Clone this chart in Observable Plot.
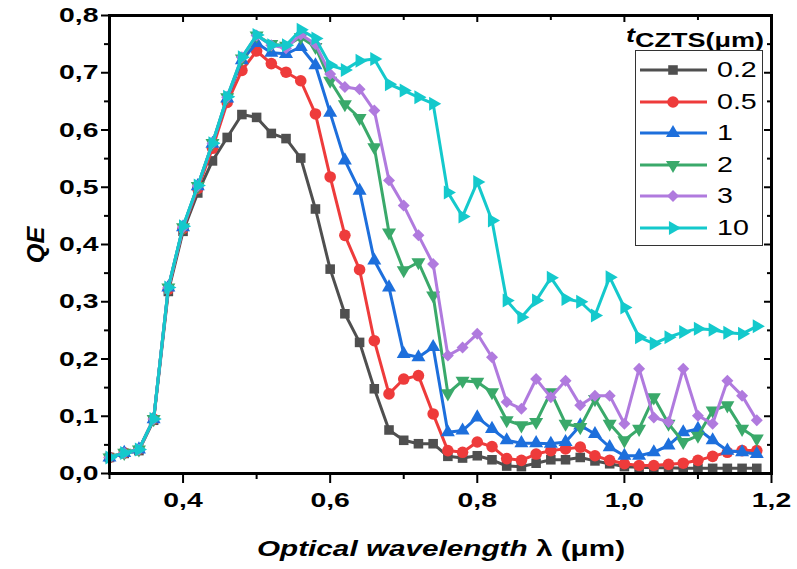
<!DOCTYPE html>
<html>
<head>
<meta charset="utf-8">
<script src="https://cdn.jsdelivr.net/npm/d3@7"></script>
<script src="https://cdn.jsdelivr.net/npm/@observablehq/plot@0.6"></script>
<style>
  body { margin: 0; background: #fff; }
  #chart { position: relative; width: 797px; height: 569px; font-family: "Liberation Sans", Arial, sans-serif; color: #000; }
  #chart svg.plot { position: absolute; left: 0; top: 0; }
  .stretch { position: absolute; transform: scaleX(1.35); white-space: nowrap; }
  #ylabel { left: 36px; top: 245px; font-weight: bold; font-style: italic; font-size: 23px;
            transform: translate(-50%, -50%) rotate(-90deg) scaleX(1.1); position: absolute; white-space: nowrap; }
  #xlabel { left: 441px; top: 536px; font-weight: bold; font-size: 22px; transform: translateX(-50%) scaleX(1.35); transform-origin: center; }
  #legend-title { left: 626px; top: 24px; font-weight: bold; font-size: 20px; transform-origin: left center; }
  #legend-box { position: absolute; left: 635px; top: 50px; width: 126px; height: 194px; border: 1px solid #333; background: #fff; }
  .legend-row { position: absolute; left: 0; height: 30px; width: 126px; }
  .legend-row svg { position: absolute; left: 4px; top: 0; }
  .legend-row span { position: absolute; left: 81px; top: 2px; font-size: 22px; transform: scaleX(1.3); transform-origin: left center; }
</style>
</head>
<body>
<div id="chart"></div>
<script>
// Wavelength grid (µm)
const wavelength = [0.30, 0.32, 0.34, 0.36, 0.38, 0.40, 0.42, 0.44, 0.46, 0.48,
  0.50, 0.52, 0.54, 0.56, 0.58, 0.60, 0.62, 0.64, 0.66, 0.68,
  0.70, 0.72, 0.74, 0.76, 0.78, 0.80, 0.82, 0.84, 0.86, 0.88,
  0.90, 0.92, 0.94, 0.96, 0.98, 1.00, 1.02, 1.04, 1.06, 1.08,
  1.10, 1.12, 1.14, 1.16, 1.18];

// CZTS absorber thicknesses (µm) and their legend labels
const thickness = ["0.2", "0.5", "1", "2", "3", "10"];

// Quantum efficiency for each thickness
const qe02 = [0.028, 0.035, 0.040, 0.093, 0.318, 0.423, 0.490, 0.546, 0.587, 0.627,
  0.622, 0.594, 0.585, 0.551, 0.462, 0.357, 0.279, 0.229, 0.148, 0.076,
  0.058, 0.052, 0.052, 0.030, 0.027, 0.031, 0.024, 0.013, 0.012, 0.018,
  0.024, 0.024, 0.028, 0.022, 0.017, 0.012, 0.011, 0.010, 0.010, 0.009,
  0.009, 0.009, 0.009, 0.009, 0.009];
const qe05 = [0.028, 0.036, 0.042, 0.095, 0.322, 0.428, 0.498, 0.568, 0.648, 0.704,
  0.738, 0.716, 0.701, 0.686, 0.628, 0.518, 0.416, 0.356, 0.232, 0.139,
  0.165, 0.171, 0.104, 0.040, 0.037, 0.055, 0.047, 0.026, 0.023, 0.034,
  0.040, 0.043, 0.046, 0.031, 0.023, 0.017, 0.014, 0.014, 0.016, 0.018,
  0.023, 0.030, 0.037, 0.040, 0.040];
const qe1 = [0.028, 0.036, 0.042, 0.095, 0.325, 0.430, 0.502, 0.576, 0.655, 0.722,
  0.752, 0.735, 0.733, 0.745, 0.713, 0.630, 0.547, 0.494, 0.372, 0.325,
  0.209, 0.203, 0.221, 0.072, 0.075, 0.098, 0.078, 0.058, 0.053, 0.053,
  0.052, 0.055, 0.084, 0.069, 0.046, 0.031, 0.031, 0.037, 0.049, 0.072,
  0.078, 0.058, 0.040, 0.037, 0.034];
const qe2 = [0.028, 0.036, 0.042, 0.095, 0.325, 0.430, 0.502, 0.577, 0.657, 0.725,
  0.765, 0.750, 0.747, 0.762, 0.745, 0.686, 0.645, 0.621, 0.570, 0.421,
  0.355, 0.369, 0.311, 0.140, 0.162, 0.160, 0.142, 0.093, 0.084, 0.090,
  0.142, 0.087, 0.081, 0.130, 0.087, 0.058, 0.078, 0.133, 0.087, 0.055,
  0.066, 0.110, 0.119, 0.078, 0.061];
const qe3 = [0.028, 0.036, 0.042, 0.095, 0.325, 0.430, 0.502, 0.577, 0.657, 0.727,
  0.765, 0.748, 0.743, 0.767, 0.750, 0.698, 0.675, 0.671, 0.634, 0.512,
  0.468, 0.416, 0.366, 0.206, 0.220, 0.244, 0.203, 0.125, 0.113, 0.165,
  0.133, 0.162, 0.119, 0.136, 0.136, 0.087, 0.183, 0.098, 0.090, 0.183,
  0.101, 0.087, 0.162, 0.136, 0.093];
const qe10 = [0.028, 0.036, 0.042, 0.095, 0.325, 0.432, 0.503, 0.577, 0.658, 0.727,
  0.766, 0.748, 0.748, 0.775, 0.760, 0.713, 0.705, 0.721, 0.724, 0.680,
  0.669, 0.657, 0.646, 0.491, 0.449, 0.509, 0.442, 0.302, 0.273, 0.302,
  0.342, 0.305, 0.300, 0.276, 0.343, 0.290, 0.238, 0.227, 0.238, 0.247,
  0.253, 0.251, 0.246, 0.244, 0.257];

// Axis tick values
const xMajorTicks = [0.4, 0.6, 0.8, 1.0, 1.2];
const xMinorTicks = [0.3, 0.5, 0.7, 0.9, 1.1];
const yMajorTicks = [0, 0.1, 0.2, 0.3, 0.4, 0.5, 0.6, 0.7, 0.8];
const yMinorTicks = [0.05, 0.15, 0.25, 0.35, 0.45, 0.55, 0.65, 0.75];

const colors = ["#4f4f4f", "#ee3b3b", "#1d6fdc", "#3aa96a", "#b07ade", "#14c9cc"];

// Custom marker shapes: triangles pointing down and right
const sqrt3 = Math.sqrt(3);
function triangle(dir) {
  return {
    draw(context, size) {
      const y = -Math.sqrt(size / (sqrt3 * 3));
      let pts = [[0, 2 * y], [-sqrt3 * y, -y], [sqrt3 * y, -y]];
      if (dir === "down") pts = pts.map(([a, b]) => [a, -b]);
      if (dir === "right") pts = pts.map(([a, b]) => [-b, a]);
      context.moveTo(pts[0][0], pts[0][1]);
      context.lineTo(pts[1][0], pts[1][1]);
      context.lineTo(pts[2][0], pts[2][1]);
      context.closePath();
    }
  };
}
const symbols = [d3.symbolSquare, d3.symbolCircle, d3.symbolTriangle, triangle("down"), d3.symbolDiamond2, triangle("right")];
const radii = [5.4, 5.8, 5.2, 5.2, 5.4, 5.2];

const seriesValues = [qe02, qe05, qe1, qe2, qe3, qe10];
const series = thickness.map((t, k) => ({
  label: t,
  color: colors[k],
  symbol: symbols[k],
  r: radii[k],
  rows: wavelength.map((w, i) => ({w, qe: seriesValues[k][i]}))
}));

const fmt = d => d.toFixed(1).replace(".", ",");
const labelFont = {fontFamily: "Liberation Sans, Arial, sans-serif", fontSize: 21, fontWeight: "bold"};

const marks = [
  // left axis: outward ticks with labels
  Plot.axisY(yMajorTicks, {anchor: "left", tickSize: 8, tickPadding: 3, strokeWidth: 2, tickFormat: fmt, label: null, ...labelFont}),
  Plot.axisY(yMinorTicks, {anchor: "left", tickSize: 5, strokeWidth: 2, tickFormat: () => "", label: null}),
  // bottom axis: outward ticks with labels
  Plot.axisX(xMajorTicks, {anchor: "bottom", tickSize: 10, tickPadding: 9, strokeWidth: 2, tickFormat: fmt, label: null, ...labelFont}),
  Plot.axisX(xMinorTicks, {anchor: "bottom", tickSize: 6, strokeWidth: 2, tickFormat: () => "", label: null}),
  // top and right axes: inward ticks only
  Plot.axisX(xMajorTicks, {anchor: "top", tickSize: 6, dy: 6, strokeWidth: 2, tickFormat: () => "", label: null}),
  Plot.axisX(xMinorTicks, {anchor: "top", tickSize: 4, dy: 4, strokeWidth: 2, tickFormat: () => "", label: null}),
  Plot.axisY(yMajorTicks, {anchor: "right", tickSize: 8, dx: -8, strokeWidth: 2, tickFormat: () => "", label: null}),
  Plot.axisY(yMinorTicks, {anchor: "right", tickSize: 5, dx: -5, strokeWidth: 2, tickFormat: () => "", label: null})
];

for (const s of series) {
  marks.push(Plot.line(s.rows, {x: "w", y: "qe", stroke: s.color, strokeWidth: 3}));
  marks.push(Plot.dot(s.rows, {x: "w", y: "qe", fill: s.color, stroke: "none", symbol: s.symbol, r: s.r}));
}
marks.push(Plot.frame({stroke: "#000", strokeWidth: 3}));

const plot = Plot.plot({
  width: 797,
  height: 569,
  marginLeft: 109,
  marginRight: 26,
  marginTop: 15,
  marginBottom: 96,
  x: {domain: [0.3, 1.2]},
  y: {domain: [0, 0.8]},
  style: {background: "#fff", color: "#000", overflow: "visible"},
  marks
});

// Widen tick labels horizontally around their anchor point
plot.querySelectorAll('[aria-label$="tick label"] text').forEach(t => {
  const tr = t.getAttribute("transform");
  if (tr) {
    t.setAttribute("transform", tr + " scale(1.35,1)");
  } else {
    const x = +t.getAttribute("x") || 0, y = +t.getAttribute("y") || 0;
    t.removeAttribute("x"); t.removeAttribute("y");
    t.setAttribute("transform", `translate(${x},${y}) scale(1.35,1)`);
  }
});

const chart = document.getElementById("chart");
chart.appendChild(plot);

// Axis titles
const ylab = document.createElement("div");
ylab.id = "ylabel";
ylab.textContent = "QE";
chart.appendChild(ylab);

const xlab = document.createElement("div");
xlab.id = "xlabel";
xlab.className = "stretch";
xlab.innerHTML = '<i>Optical wavelength</i> λ (μm)';
chart.appendChild(xlab);

// Legend
const title = document.createElement("div");
title.id = "legend-title";
title.className = "stretch";
title.innerHTML = '<i>t</i><span style="position:relative;top:5px">CZTS(μm)</span>';
chart.appendChild(title);

const box = document.createElement("div");
box.id = "legend-box";
chart.appendChild(box);
series.forEach((s, k) => {
  const row = document.createElement("div");
  row.className = "legend-row";
  row.style.top = (4 + k * 31.6) + "px";
  const sv = d3.create("svg").attr("width", 72).attr("height", 30);
  sv.append("line").attr("x1", 0).attr("x2", 67).attr("y1", 15).attr("y2", 15)
    .attr("stroke", s.color).attr("stroke-width", 3);
  sv.append("path").attr("transform", "translate(33,15)")
    .attr("d", d3.symbol(s.symbol, s.r * s.r * Math.PI)())
    .attr("fill", s.color);
  row.appendChild(sv.node());
  const lab = document.createElement("span");
  lab.textContent = s.label;
  row.appendChild(lab);
  box.appendChild(row);
});
</script>
</body>
</html>
